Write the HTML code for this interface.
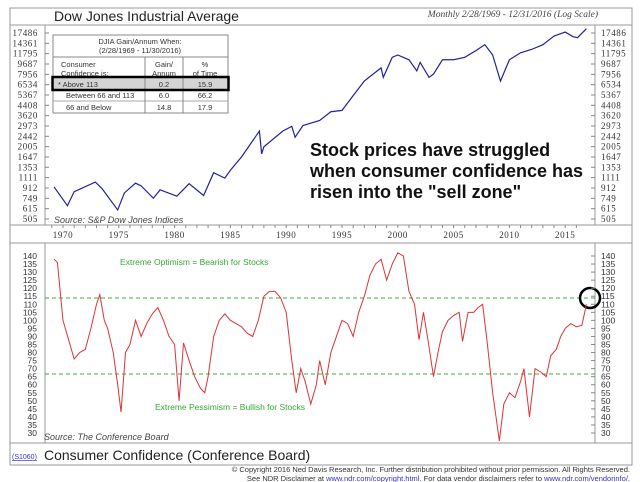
<!DOCTYPE html>
<html><head><meta charset="utf-8"><style>
body{margin:0;background:#fff;}
svg{display:block;font-family:"Liberation Sans",Arial,sans-serif;}
.tk{font-family:"Liberation Serif",serif;font-size:9px;fill:#333;letter-spacing:0.6px;}
.tk2{font-family:"Liberation Sans",sans-serif;font-size:8.5px;fill:#333;}
</style></head><body>
<svg id="c" width="640" height="482" viewBox="0 0 640 482">
<rect x="10" y="8" width="622" height="457" fill="#fff" stroke="#999"/>
<line x1="10" y1="25" x2="632" y2="25" stroke="#999"/>
<line x1="10" y1="225" x2="632" y2="225" stroke="#999"/>
<line x1="10" y1="243" x2="632" y2="243" stroke="#999"/>
<line x1="10" y1="443" x2="632" y2="443" stroke="#999"/>
<line x1="45" y1="25" x2="45" y2="225" stroke="#999"/>
<line x1="595" y1="25" x2="595" y2="225" stroke="#999"/>
<line x1="45" y1="243" x2="45" y2="443" stroke="#999"/>
<line x1="595" y1="243" x2="595" y2="443" stroke="#999"/>
<text x="54" y="21" font-size="14" fill="#222">Dow Jones Industrial Average</text>
<text x="598" y="17" text-anchor="end" font-size="9.5" font-style="italic" fill="#444" font-family="Liberation Serif,serif">Monthly 2/28/1969 - 12/31/2016 (Log Scale)</text>
<text x="54" y="223" font-size="9" font-style="italic" fill="#444">Source: S&amp;P Dow Jones Indices</text>
<text x="44" y="440" font-size="9" font-style="italic" fill="#444">Source: The Conference Board</text>
<text x="44" y="460" font-size="14" fill="#222">Consumer Confidence (Conference Board)</text>
<text x="12" y="459" font-size="7" fill="#33c" text-decoration="underline">(S1060)</text>
<text x="630" y="472" text-anchor="end" font-size="7.5" fill="#333">© Copyright 2016 Ned Davis Research, Inc.  Further distribution prohibited without prior permission.  All Rights Reserved.</text>
<text x="630" y="481" text-anchor="end" font-size="7.5" fill="#333">See NDR Disclaimer at <tspan fill="#33c" text-decoration="underline">www.ndr.com/copyright.html</tspan>. For data vendor disclaimers refer to <tspan fill="#33c" text-decoration="underline">www.ndr.com/vendorinfo/</tspan>.</text>
<g id="table">
<rect x="53" y="35" width="175" height="78" fill="#fff" stroke="#888"/>
<line x1="53" y1="57" x2="228" y2="57" stroke="#888"/>
<rect x="53" y="78" width="175" height="12" fill="#d4d4d4"/>
<line x1="53" y1="101" x2="228" y2="101" stroke="#aaa"/>
<line x1="145" y1="57" x2="145" y2="113" stroke="#888"/>
<line x1="183" y1="57" x2="183" y2="113" stroke="#888"/>
<text x="140" y="44" text-anchor="middle" font-size="7.5" fill="#333">DJIA Gain/Annum When:</text>
<text x="140" y="53" text-anchor="middle" font-size="7.5" fill="#333">(2/28/1969 - 11/30/2016)</text>
<text x="61" y="67" font-size="7.5" fill="#333">Consumer</text>
<text x="61" y="76" font-size="7.5" fill="#333">Confidence is:</text>
<text x="164" y="67" text-anchor="middle" font-size="7.5" fill="#333">Gain/</text>
<text x="164" y="76" text-anchor="middle" font-size="7.5" fill="#333">Annum</text>
<text x="205" y="67" text-anchor="middle" font-size="7.5" fill="#333">%</text>
<text x="205" y="76" text-anchor="middle" font-size="7.5" fill="#333">of Time</text>
<text x="58" y="87" font-size="7.5" fill="#333">* Above 113</text><text x="164" y="87" text-anchor="middle" font-size="7.5" fill="#333">0.2</text><text x="205" y="87" text-anchor="middle" font-size="7.5" fill="#333">15.9</text>
<text x="66" y="98" font-size="7.5" fill="#333">Between 66 and 113</text><text x="164" y="98" text-anchor="middle" font-size="7.5" fill="#333">6.0</text><text x="205" y="98" text-anchor="middle" font-size="7.5" fill="#333">66.2</text>
<text x="66" y="110" font-size="7.5" fill="#333">66 and Below</text><text x="164" y="110" text-anchor="middle" font-size="7.5" fill="#333">14.8</text><text x="205" y="110" text-anchor="middle" font-size="7.5" fill="#333">17.9</text>
<rect x="52.5" y="77" width="176" height="13" fill="none" stroke="#000" stroke-width="2.5"/>
</g>
<text font-size="18" font-weight="bold" fill="#111"><tspan x="310" y="156">Stock prices have struggled</tspan><tspan x="310" y="177">when consumer confidence has</tspan><tspan x="310" y="198">risen into the "sell zone"</tspan></text>
<line x1="45" y1="298" x2="595" y2="298" stroke="#4a4" stroke-dasharray="4,3"/>
<line x1="45" y1="374" x2="595" y2="374" stroke="#4a4" stroke-dasharray="4,3"/>
<text x="120" y="265" font-size="8.5" fill="#3a3">Extreme Optimism = Bearish for Stocks</text>
<text x="155" y="410" font-size="8.5" fill="#3a3">Extreme Pessimism = Bullish for Stocks</text>
<circle cx="590" cy="298" r="10" fill="none" stroke="#000" stroke-width="2.5"/>
<g id="marks"></g>
</svg>
<script>
const djiaYears=[1969.2,1970.4,1971,1972.9,1973.5,1974.9,1975.5,1976.5,1977,1978.1,1978.7,1980.2,1981.3,1982.6,1983.5,1984.5,1985,1986,1987.6,1987.8,1988,1989.7,1990.5,1990.8,1991.5,1993,1994,1995,1996,1997,1998.5,1998.7,1999.5,2000,2001,2001.7,2002,2002.8,2003.2,2004,2005,2006,2007,2007.8,2008.5,2009.2,2010,2011,2012,2013,2014,2015,2015.7,2016.1,2016.9];
const djiaValues=[930,650,850,1020,900,600,830,1000,950,750,880,780,990,790,1220,1100,1280,1650,2700,1750,2000,2700,2950,2400,3000,3300,3900,4000,5300,7000,9000,7500,11000,11500,10500,8500,10000,7500,8000,10500,10500,11000,12500,14000,11500,7000,10500,12000,12800,14000,16500,17800,16300,16000,19000];
const ccYears=[1969.2,1969.5,1970,1970.5,1971,1971.5,1972,1972.5,1973,1973.3,1973.7,1974,1974.5,1974.9,1975.2,1975.6,1976,1976.5,1977,1977.5,1978,1978.5,1979,1979.5,1980,1980.4,1980.8,1981.3,1981.8,1982.3,1982.7,1983,1983.5,1984,1984.5,1985,1985.5,1986,1986.5,1987,1987.5,1988,1988.5,1989,1989.5,1990,1990.5,1990.9,1991.3,1991.7,1992.2,1992.7,1993,1993.5,1994,1994.5,1995,1995.5,1996,1996.5,1997,1997.5,1998,1998.5,1999,1999.5,2000,2000.5,2001,2001.5,2001.9,2002.3,2002.7,2003.2,2003.6,2004,2004.5,2005,2005.5,2005.8,2006.3,2006.8,2007.2,2007.6,2008,2008.5,2009.1,2009.5,2010,2010.5,2011,2011.3,2011.8,2012.3,2012.8,2013.3,2013.7,2014.2,2014.6,2015,2015.5,2016,2016.5,2016.9];
const ccValues=[138,136,100,88,76,80,82,95,110,116,100,95,80,60,43,80,85,100,90,98,104,108,100,90,85,50,86,75,65,58,55,65,90,100,104,100,98,96,92,90,100,115,118,118,114,105,75,55,70,62,48,60,75,60,80,90,100,98,90,105,115,128,135,138,125,135,142,140,118,110,88,105,88,65,80,93,100,103,105,87,105,105,108,110,87,55,25,48,55,52,62,70,40,70,68,65,78,82,90,95,98,96,97,110];
const topTicks=[17486,14361,11795,9687,7956,6534,5367,4408,3620,2973,2442,2005,1647,1353,1111,912,749,615,505];
const ccTicks=[140,135,130,125,120,115,110,105,100,95,90,85,80,75,70,65,60,55,50,45,40,35,30];
const yearTicks=[1970,1975,1980,1985,1990,1995,2000,2005,2010,2015];
const NS='http://www.w3.org/2000/svg';
const g=document.getElementById('marks');
function xs(y){return 63+(y-1970)*11.16;}
function yTop(v){return 219-Math.log(v/505)/Math.log(17486/505)*186;}
function yCC(v){return 433-(v-30)/110*177;}
function mk(t,a){const e=document.createElementNS(NS,t);for(const k in a)e.setAttribute(k,a[k]);g.appendChild(e);return e;}
topTicks.forEach(v=>{const y=yTop(v);
 const l=mk('text',{x:38,y:y+3,'text-anchor':'end',class:'tk'});l.textContent=v;
 
 
 const r=mk('text',{x:601,y:y+3,class:'tk'});r.textContent=v;
 
 
 mk('line',{x1:45,x2:49,y1:y,y2:y,stroke:'#888'});mk('line',{x1:591,x2:595,y1:y,y2:y,stroke:'#888'});});
ccTicks.forEach(v=>{const y=yCC(v);
 const l=mk('text',{x:37,y:y+3,'text-anchor':'end',class:'tk2'});l.textContent=v;
 
 
 const r=mk('text',{x:601,y:y+3,class:'tk2'});r.textContent=v;
 
 
 mk('line',{x1:591,x2:595,y1:y,y2:y,stroke:'#888'});});
yearTicks.forEach(v=>{const x=xs(v);
 const t=mk('text',{x:x,y:238,'text-anchor':'middle',class:'tk'});t.textContent=v;
 
 });
for(let yr=1969;yr<=2016;yr++){const x=xs(yr);mk('line',{x1:x,x2:x,y1:225,y2:228,stroke:'#888'});}
const p1=mk('polyline',{points:djiaYears.map((y,i)=>xs(y)+','+yTop(djiaValues[i])).join(' '),fill:'none',stroke:'#22229a','stroke-width':1.2});


const p2=mk('polyline',{points:ccYears.map((y,i)=>xs(y)+','+yCC(ccValues[i])).join(' '),fill:'none',stroke:'#d33','stroke-width':1});


</script>
</body></html>
